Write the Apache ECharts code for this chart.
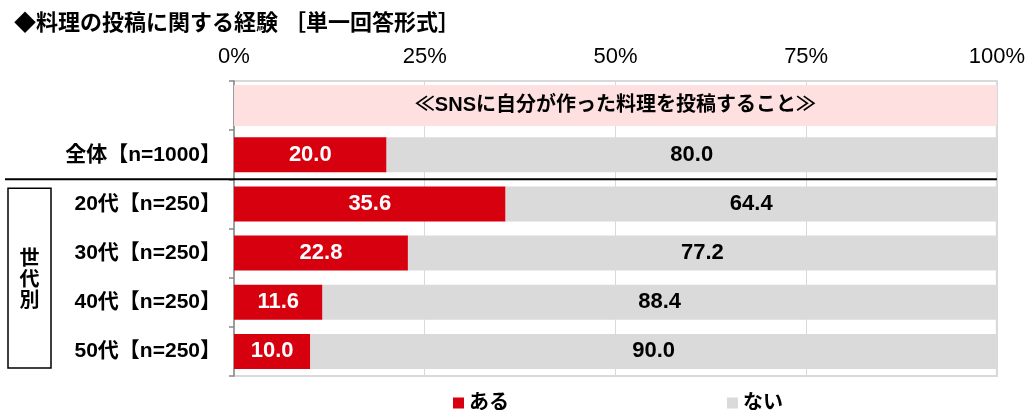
<!DOCTYPE html>
<html>
<head>
<meta charset="utf-8">
<script src="https://cdn.jsdelivr.net/npm/echarts@6/dist/echarts.min.js"></script>
<style>
html,body{margin:0;padding:0;background:#fff;}
#chart{width:1028px;height:410px;}
</style>
</head>
<body>
<div id="chart"></div>
<script>
const titleText = '◆料理の投稿に関する経験 ［単一回答形式］';
const headerText = '≪SNSに自分が作った料理を投稿すること≫';
const categories = ['header', '全体【n=1000】', '20代【n=250】', '30代【n=250】', '40代【n=250】', '50代【n=250】'];
const seriesNames = ['ある', 'ない'];
const aruValues = ['-', 20.0, 35.6, 22.8, 11.6, 10.0];
const naiValues = ['-', 80.0, 64.4, 77.2, 88.4, 90.0];
const headerValues = [100, '-', '-', '-', '-', '-'];
const xTicks = [0, 25, 50, 75, 100];
const groupLabel = '世代別';

const FONT = '"Liberation Sans", "Noto Sans CJK JP", sans-serif';
const chart = echarts.init(document.getElementById('chart'), null, {renderer: 'canvas'});

const option = {
  animation: false,
  backgroundColor: '#fff',
  title: {
    text: titleText,
    left: 9, top: 8,
    textStyle: {fontFamily: FONT, fontSize: 22, fontWeight: 'bold', color: '#000'}
  },
  legend: {
    data: seriesNames,
    icon: 'rect', itemWidth: 11, itemHeight: 11, itemGap: 218,
    left: 448, top: 388,
    textStyle: {fontFamily: FONT, fontSize: 20, fontWeight: 'bold', color: '#000'}
  },
  grid: {
    left: 234, right: 31, top: 81, bottom: 34,
    show: true, borderColor: '#d9d9d9', borderWidth: 2, containLabel: false
  },
  xAxis: {
    type: 'value', position: 'top', min: 0, max: 100, interval: 25,
    axisLine: {show: false}, axisTick: {show: false},
    splitLine: {show: true, lineStyle: {color: '#d9d9d9', width: 1}},
    axisLabel: {
      formatter: v => xTicks.includes(v) ? v + '%' : '',
      fontFamily: FONT, fontSize: 22, color: '#000', margin: 13
    }
  },
  yAxis: [{
    type: 'category', data: categories, inverse: true,
    axisLine: {show: true, lineStyle: {color: '#888', width: 1.5}},
    axisTick: {show: true, length: 5, lineStyle: {color: '#888', width: 1.5}},
    axisLabel: {
      formatter: v => v === 'header' ? '' : v,
      fontFamily: FONT, fontSize: 21, fontWeight: 'bold', color: '#000', margin: 13
    },
    splitLine: {show: false}
  }, {
    type: 'category', data: categories, inverse: true, show: false,
    axisLine: {show: false}, axisTick: {show: false}, axisLabel: {show: false}
  }],
  series: [{
    name: 'header', type: 'bar', yAxisIndex: 1, data: headerValues,
    barWidth: 41, silent: true, z: 1,
    itemStyle: {color: '#ffe0e1'},
    label: {
      show: true, position: 'inside', formatter: () => headerText,
      fontFamily: FONT, fontSize: 20, fontWeight: 'bold', color: '#000'
    }
  }, {
    name: seriesNames[0], type: 'bar', stack: 'all', data: aruValues, barWidth: 35,
    itemStyle: {color: '#d7000f'},
    label: {
      show: true, position: 'inside', formatter: p => Number(p.value).toFixed(1),
      fontFamily: FONT, fontSize: 22, fontWeight: 'bold', color: '#fff'
    }
  }, {
    name: seriesNames[1], type: 'bar', stack: 'all', data: naiValues, barWidth: 35,
    itemStyle: {color: '#dadada'},
    label: {
      show: true, position: 'inside', formatter: p => Number(p.value).toFixed(1),
      fontFamily: FONT, fontSize: 22, fontWeight: 'bold', color: '#000'
    }
  }]
};
chart.setOption(option);

// decorations positioned from the axis scale
const c1 = chart.convertToPixel({yAxisIndex: 0}, categories[1]);
const c2 = chart.convertToPixel({yAxisIndex: 0}, categories[2]);
const c5 = chart.convertToPixel({yAxisIndex: 0}, categories[5]);
const step = c2 - c1;
const sepY = (c1 + c2) / 2;
const rightX = chart.convertToPixel({xAxisIndex: 0}, 100);
const boxTop = sepY + 9;
const boxBottom = c5 + step / 2 - 8;
chart.setOption({
  graphic: [{
    type: 'line', z: 100,
    shape: {x1: 5, y1: sepY, x2: rightX, y2: sepY},
    style: {stroke: '#000', lineWidth: 2}
  }, {
    type: 'rect', z: 100,
    shape: {x: 8, y: boxTop, width: 43, height: boxBottom - boxTop},
    style: {fill: '#fff', stroke: '#000', lineWidth: 1.5}
  }, {
    type: 'text', z: 101,
    x: 29.5, y: (boxTop + boxBottom) / 2,
    style: {
      text: groupLabel.split('').join('\n'),
      font: 'bold 20px "Noto Sans CJK JP", sans-serif',
      fill: '#000', align: 'center', verticalAlign: 'middle', lineHeight: 21
    }
  }]
});
</script>
</body>
</html>
